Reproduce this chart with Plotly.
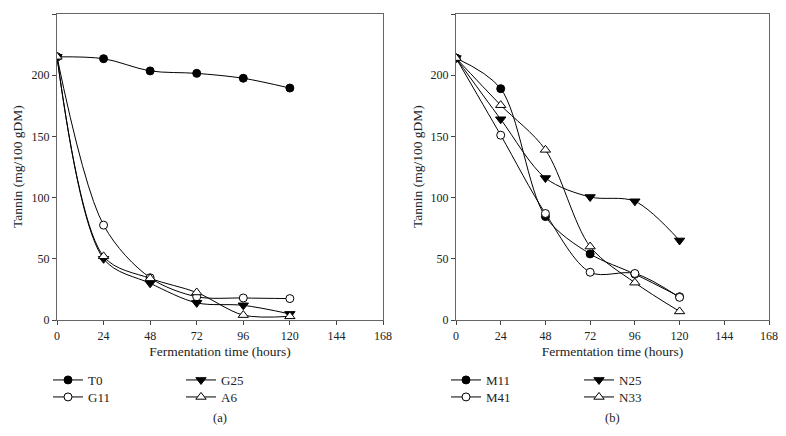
import plotly.graph_objects as go

time_h = [0, 24, 48, 72, 96, 120]
x_ticks = [0, 24, 48, 72, 96, 120, 144, 168]
y_ticks = [0, 50, 100, 150, 200, 250]

# Panel (a)
T0 = [215, 213.5, 203.5, 201.5, 197.5, 189.5]
G11 = [215, 77.5, 34.5, 19, 18, 17.5]
G25 = [215, 50, 30, 14, 12, 5]
A6 = [215, 52, 34, 22.5, 4, 3]

# Panel (b)
M11 = [214, 189, 84.5, 54, 37.5, 19]
M41 = [214, 151, 87, 39, 38, 18.5]
N25 = [214, 164, 116, 100.5, 97, 65]
N33 = [214, 175.5, 139, 60, 30.5, 7]

FONT = "Liberation Serif"
TXT = "#222"
# page body has an 8px margin; figure is sized to fit the 786x436 window
OFF = 8
W, H = 786 - 2 * OFF, 436 - 2 * OFF

def px(xr):
    return (xr - OFF) / W

def py(yr):
    return 1 - (yr - OFF) / H

fig = go.Figure()

def add(x, y, name, symbol, filled, xa, ya, legend):
    fig.add_trace(go.Scatter(
        x=x, y=y, name=name, mode="lines+markers",
        line=dict(color="black", width=1, shape="spline", smoothing=0.9),
        marker=dict(symbol=symbol, size=9 if "triangle" in symbol else 8,
                    color="black" if filled else "white",
                    line=dict(color="black", width=1)),
        xaxis=xa, yaxis=ya, legend=legend))

add(time_h, T0, "T0", "circle", True, "x", "y", "legend")
add(time_h, G11, "G11", "circle", False, "x", "y", "legend2")
add(time_h, G25, "G25", "triangle-down", True, "x", "y", "legend3")
add(time_h, A6, "A6", "triangle-up", False, "x", "y", "legend4")

add(time_h, M11, "M11", "circle", True, "x2", "y2", "legend5")
add(time_h, M41, "M41", "circle", False, "x2", "y2", "legend6")
add(time_h, N25, "N25", "triangle-down", True, "x2", "y2", "legend7")
add(time_h, N33, "N33", "triangle-up", False, "x2", "y2", "legend8")

ax_common = dict(showgrid=False, zeroline=False, showline=True, mirror=True, automargin=False,
                 linecolor="#666", linewidth=1.2, ticks="outside", ticklen=4,
                 tickcolor="#444", tickfont=dict(family=FONT, size=12, color=TXT))

xcommon = dict(ax_common, range=[0, 168], tickvals=x_ticks,
               title=dict(text="Fermentation time (hours)", font=dict(family=FONT, size=13.5, color=TXT), standoff=5))
ycommon = dict(ax_common, range=[0, 250], tickvals=y_ticks)

leg_common = dict(font=dict(family=FONT, size=13, color=TXT), bgcolor="rgba(0,0,0,0)",
                  xanchor="left", yanchor="middle", itemwidth=30, orientation="v")

def leg(xr, yr):
    return dict(leg_common, x=px(xr), y=py(yr))

def note(text, xr, yr, angle=0, size=13.5):
    return dict(text=text, x=px(xr), y=py(yr), xref="paper", yref="paper",
                xanchor="center", yanchor="middle", textangle=angle,
                showarrow=False, font=dict(family=FONT, size=size, color=TXT))

row1, row2 = 380, 397
ydom = [py(320), py(14)]
fig.update_layout(
    width=W, height=H, margin=dict(l=0, r=0, t=0, b=0),
    paper_bgcolor="white", plot_bgcolor="white", showlegend=True,
    xaxis=dict(xcommon, domain=[px(57), px(383)], anchor="y"),
    yaxis=dict(ycommon, domain=ydom, anchor="x"),
    xaxis2=dict(xcommon, domain=[px(456), px(769)], anchor="y2"),
    yaxis2=dict(ycommon, domain=ydom, anchor="x2"),
    legend=leg(48, row1), legend2=leg(48, row2),
    legend3=leg(181, row1), legend4=leg(181, row2),
    legend5=leg(446, row1), legend6=leg(446, row2),
    legend7=leg(579, row1), legend8=leg(579, row2),
    annotations=[
        note("Tannin (mg/100 gDM)", 17, 167, -90),
        note("Tannin (mg/100 gDM)", 417, 167, -90),
        note("(a)", (57 + 383) / 2, 418, 0, 12.5),
        note("(b)", (456 + 769) / 2, 418, 0, 12.5),
    ],
)

fig.write_html("out.html")
